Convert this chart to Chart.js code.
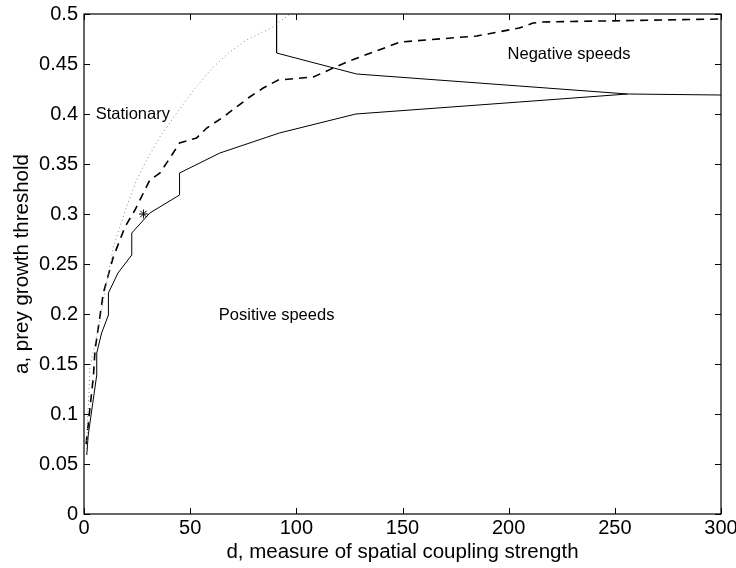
<!DOCTYPE html>
<html>
<head>
<meta charset="utf-8">
<script src="https://cdn.jsdelivr.net/npm/chart.js@4"></script>
<style>
  html, body { margin: 0; padding: 0; background: #fff; }
  #wrap { width: 736px; height: 568px; }
</style>
</head>
<body>
<div id="wrap"><canvas id="grafico" width="736" height="568"></canvas></div>
<script>
// lower solid boundary (positive speeds / stationary)
const solidLowX = [1.3, 2, 6, 6, 8.3, 11.5, 11.5, 16, 22.5, 22.5, 31, 45, 45, 64, 92, 128, 205, 256, 300];
const solidLowY = [0.059, 0.079, 0.139, 0.161, 0.181, 0.199, 0.221, 0.241, 0.259, 0.281, 0.301, 0.319, 0.341, 0.361, 0.381, 0.400, 0.412, 0.420, 0.419];

// upper solid boundary (negative speeds)
const solidHighX = [90.7, 90.7, 128.4, 205, 256];
const solidHighY = [0.5, 0.461, 0.44, 0.428, 0.420];

// dashed curve
const dashX = [1, 2.5, 4.4, 5.2, 9.1, 13.8, 19.3, 24, 31, 35.8, 42, 45, 53, 57.8, 65.6, 78, 84.4, 91.5, 108, 123.7, 149, 161, 185, 205, 211.5, 216, 300];
const dashY = [0.07, 0.1, 0.137, 0.164, 0.221, 0.257, 0.287, 0.304, 0.334, 0.341, 0.361, 0.371, 0.376, 0.386, 0.397, 0.417, 0.426, 0.434, 0.437, 0.452, 0.472, 0.474, 0.478, 0.486, 0.491, 0.492, 0.495];

// dotted curve
const dotX = [1.2, 2.8, 7.5, 13.8, 20, 24.8, 29.5, 36, 43.7, 52, 60.9, 68, 76.6, 89, 97];
const dotY = [0.065, 0.147, 0.194, 0.267, 0.307, 0.334, 0.354, 0.378, 0.401, 0.425, 0.447, 0.461, 0.474, 0.487, 0.5];

// asterisk marker
const starX = [28];
const starY = [0.300];

const xTicks = [0, 50, 100, 150, 200, 250, 300];

// region labels (data coordinates)
const textos = ['Stationary', 'Positive speeds', 'Negative speeds'];
const textosX = [5.5, 63.5, 199.5];
const textosY = [0.4, 0.199, 0.46];

const pontos = (xs, ys) => xs.map((x, i) => ({ x: x, y: ys[i] }));

const fonte = 'Liberation Sans, Arial, Helvetica, sans-serif';

// MATLAB-style inward ticks on all four sides + box
const ticksDentro = {
    id: 'ticksDentro',
    afterDraw(chart) {
        const c = chart.ctx;
        const a = chart.chartArea;
        const sx = chart.scales.x, sy = chart.scales.y;
        c.save();
        c.strokeStyle = '#000';
        c.lineWidth = 1;
        c.beginPath();
        sx.ticks.forEach(t => {
            const px = Math.round(sx.getPixelForValue(t.value)) + 0.5;
            c.moveTo(px, a.bottom); c.lineTo(px, a.bottom - 6);
            c.moveTo(px, a.top); c.lineTo(px, a.top + 6);
        });
        sy.ticks.forEach(t => {
            const py = Math.round(sy.getPixelForValue(t.value)) + 0.5;
            c.moveTo(a.left, py); c.lineTo(a.left + 6, py);
            c.moveTo(a.right, py); c.lineTo(a.right - 6, py);
        });
        c.stroke();
        c.lineWidth = 1.2;
        c.strokeRect(a.left, a.top, a.right - a.left, a.bottom - a.top);
        c.restore();
    }
};

const rotulos = {
    id: 'rotulos',
    afterDatasetsDraw(chart) {
        const c = chart.ctx;
        const sx = chart.scales.x, sy = chart.scales.y;
        c.save();
        c.fillStyle = '#000';
        c.font = '16.5px ' + fonte;
        c.textBaseline = 'middle';
        c.textAlign = 'left';
        textos.forEach((t, i) => {
            c.fillText(t, sx.getPixelForValue(textosX[i]), sy.getPixelForValue(textosY[i]));
        });
        c.restore();
    }
};

const ctx = document.getElementById('grafico').getContext('2d');

const grafico = new Chart(ctx, {
    type: 'line',
    data: {
        datasets: [
            { data: pontos(dotX, dotY), borderColor: '#888', borderWidth: 1, borderDash: [1, 3], pointRadius: 0, tension: 0 },
            { data: pontos(dashX, dashY), borderColor: '#000', borderWidth: 1.6, borderDash: [8, 6], pointRadius: 0, tension: 0 },
            { data: pontos(solidLowX, solidLowY), borderColor: '#000', borderWidth: 1, pointRadius: 0, tension: 0 },
            { data: pontos(solidHighX, solidHighY), borderColor: '#000', borderWidth: 1, pointRadius: 0, tension: 0 },
            { type: 'scatter', data: pontos(starX, starY), borderColor: '#000', borderWidth: 1, pointStyle: 'star', pointRadius: 4.5, showLine: false }
        ]
    },
    options: {
        responsive: false,
        animation: false,
        layout: { padding: { top: 14, right: 15, left: 0, bottom: 0 } },
        plugins: {
            legend: { display: false },
            tooltip: { enabled: false }
        },
        scales: {
            x: {
                type: 'linear',
                min: 0, max: 300,
                afterBuildTicks: s => { s.ticks = xTicks.map(v => ({ value: v })); },
                grid: { display: false, drawTicks: false },
                border: { display: false },
                ticks: { color: '#000', font: { family: fonte, size: 20 }, padding: 2, maxRotation: 0 },
                title: { display: true, text: 'd, measure of spatial coupling strength', color: '#000', font: { family: fonte, size: 20.5 }, padding: { top: 0, bottom: 3 } },
                afterFit: s => { s.height = 54; s.paddingLeft = 0; s.paddingRight = 0; }
            },
            y: {
                min: 0, max: 0.5,
                ticks: {
                    stepSize: 0.05, color: '#000', font: { family: fonte, size: 20 }, padding: 6,
                    callback: v => String(Number(v.toFixed(2)))
                },
                grid: { display: false, drawTicks: false },
                border: { display: false },
                title: { display: true, text: 'a, prey growth threshold', color: '#000', font: { family: fonte, size: 20.5 }, padding: { top: 10, bottom: 0 } },
                afterFit: s => { s.width = 84; s.paddingTop = 0; s.paddingBottom = 0; }
            }
        }
    },
    plugins: [ticksDentro, rotulos]
});
</script>
</body>
</html>
